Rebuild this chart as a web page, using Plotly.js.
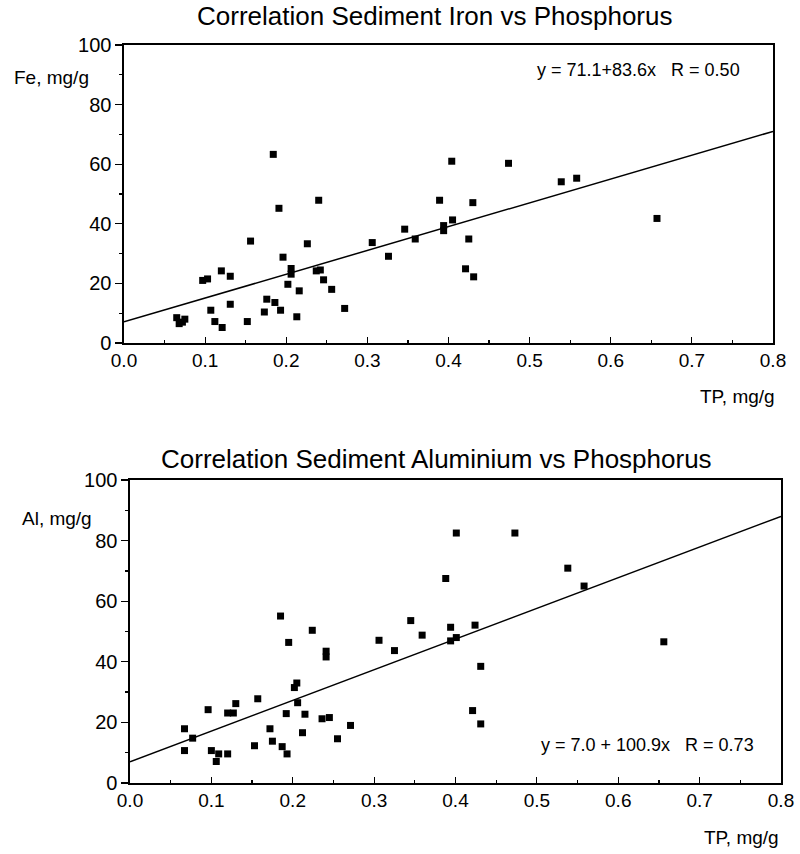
<!DOCTYPE html>
<html>
<head>
<meta charset="utf-8">
<script src="https://cdn.plot.ly/plotly-3.0.1.min.js"></script>
<style>html,body{margin:0;padding:0;background:#fff;}#chart{width:800px;height:854px;}</style>
</head>
<body>
<div id="chart"></div>
<script>
// ---- Data ----
const feTP = [0.184,0.404,0.191,0.240,0.389,0.405,0.394,0.394,0.346,0.359,0.306,0.326,0.156,0.226,0.196,0.206,0.206,0.237,0.242,0.202,0.246,0.216,0.256,0.272,0.213,0.097,0.103,0.120,0.131,0.131,0.107,0.112,0.121,0.152,0.173,0.176,0.186,0.193,0.065,0.068,0.075,0.072,0.474,0.539,0.558,0.657,0.430,0.425,0.421,0.431];
const feFe = [63.3,61.0,45.2,47.9,47.9,41.3,39.4,37.7,38.2,34.9,33.7,29.1,34.2,33.3,28.8,25.0,23.1,24.2,24.5,19.7,21.2,17.5,18.0,11.6,8.8,21.0,21.5,24.2,22.4,13.0,11.0,7.2,5.2,7.2,10.4,14.7,13.6,11.0,8.5,6.5,8.0,7.0,60.3,54.1,55.3,41.8,47.1,34.9,24.9,22.2];
const feLineX = [0, 0.8];
const feLineY = [7.1, 71.0];

const alTP = [0.401,0.388,0.185,0.224,0.195,0.241,0.241,0.306,0.325,0.345,0.359,0.394,0.394,0.401,0.205,0.202,0.206,0.157,0.130,0.096,0.120,0.127,0.192,0.215,0.236,0.245,0.271,0.067,0.077,0.172,0.212,0.255,0.067,0.100,0.109,0.120,0.106,0.153,0.175,0.187,0.193,0.473,0.538,0.558,0.424,0.656,0.431,0.421,0.431];
const alAl = [82.5,67.5,55.1,50.4,46.4,43.5,41.6,47.1,43.7,53.6,48.8,51.4,46.9,48.0,33.0,31.5,26.5,27.8,26.2,24.2,23.1,23.1,22.9,22.7,21.2,21.6,19.0,17.9,14.8,17.9,16.6,14.6,10.7,10.7,9.6,9.6,7.1,12.3,13.8,12.0,9.6,82.5,70.9,65.0,52.1,46.6,38.5,23.9,19.5];
const alLineX = [0, 0.8];
const alLineY = [7.0, 88.0];

const xTickVals = [0,0.1,0.2,0.3,0.4,0.5,0.6,0.7,0.8];
const xTickText = ['0.0','0.1','0.2','0.3','0.4','0.5','0.6','0.7','0.8'];
const yTickVals = [0,20,40,60,80,100];

const titles = ['Correlation Sediment Iron vs Phosphorus','Correlation Sediment Aluminium vs Phosphorus'];
const yLabels = ['Fe, mg/g','Al, mg/g'];
const xLabel = 'TP, mg/g';
const eqs = ['y = 71.1+83.6x   R = 0.50','y = 7.0 + 100.9x   R = 0.73'];

// ---- Build chart ----
const FONT = 'Liberation Sans, Arial, Helvetica, sans-serif';
const marker = {symbol:'square', size:7, color:'#000'};
const traces = [
  {x: feTP, y: feFe, mode:'markers', type:'scatter', marker: marker, xaxis:'x', yaxis:'y'},
  {x: feLineX, y: feLineY, mode:'lines', type:'scatter', line:{color:'#000', width:1.5}, xaxis:'x', yaxis:'y'},
  {x: alTP, y: alAl, mode:'markers', type:'scatter', marker: marker, xaxis:'x2', yaxis:'y2'},
  {x: alLineX, y: alLineY, mode:'lines', type:'scatter', line:{color:'#000', width:1.5}, xaxis:'x2', yaxis:'y2'}
];

function xAx(domain, anchor){
  return {domain: domain, anchor: anchor, range:[0,0.8], tickvals: xTickVals, ticktext: xTickText,
    ticks:'inside', ticklen:6, tickwidth:1.2, tickcolor:'#000',
    minor:{dtick:0.05, tick0:0, ticks:'inside', ticklen:3, tickcolor:'#000'},
    showline:true, linecolor:'#000', linewidth:1.6, mirror:true, showgrid:false, zeroline:false,
    tickfont:{family:FONT, size:19, color:'#000'}, fixedrange:true};
}
function yAx(domain, anchor){
  return {domain: domain, anchor: anchor, range:[0,100], tickvals: yTickVals,
    ticks:'outside', ticklen:7, tickwidth:1.2, tickcolor:'#000',
    minor:{dtick:10, tick0:0, ticks:'outside', ticklen:3, tickcolor:'#000'},
    showline:true, linecolor:'#000', linewidth:1.6, mirror:true, showgrid:false, zeroline:false,
    tickfont:{family:FONT, size:20, color:'#000'}, fixedrange:true};
}

const ann = (text, x, y, xa, ya, size) => ({text, x, y, xref:'paper', yref:'paper',
  xanchor:xa, yanchor:ya, showarrow:false, font:{family:FONT, size:size, color:'#000'}});

const layout = {
  width:800, height:854, margin:{l:0,r:0,t:0,b:0},
  paper_bgcolor:'#fff', plot_bgcolor:'#fff', showlegend:false,
  xaxis: xAx([124/800, 773/800], 'y'),
  yaxis: yAx([1-343/854, 1-45/854], 'x'),
  xaxis2: xAx([130/800, 781/800], 'y2'),
  yaxis2: yAx([1-783/854, 1-480/854], 'x2'),
  annotations: [
    ann(titles[0], 435/800, 1-16/854, 'center', 'middle', 26),
    ann(titles[1], 436/800, 1-459/854, 'center', 'middle', 26),
    ann(yLabels[0], 12/800, 1-78/854, 'left', 'middle', 19),
    ann(yLabels[1], 20/800, 1-518/854, 'left', 'middle', 19),
    ann(xLabel, 777/800, 1-397/854, 'right', 'middle', 19),
    ann(xLabel, 781/800, 1-837/854, 'right', 'middle', 19),
    ann(eqs[0], 742/800, 1-70/854, 'right', 'middle', 18),
    ann(eqs[1], 756/800, 1-745/854, 'right', 'middle', 18)
  ]
};

Plotly.newPlot('chart', traces, layout, {displayModeBar:false, staticPlot:true});
</script>
</body>
</html>
